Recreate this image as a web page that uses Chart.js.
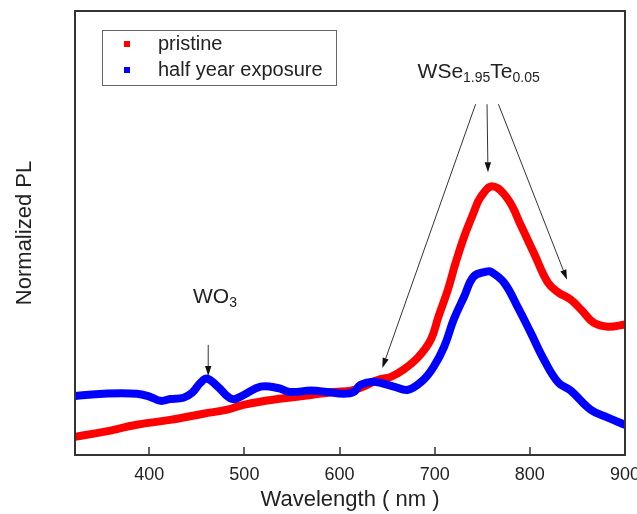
<!DOCTYPE html>
<html>
<head>
<meta charset="utf-8">
<script src="https://cdn.jsdelivr.net/npm/chart.js@4.4.1/dist/chart.umd.min.js"></script>
<style>
  html, body { margin: 0; background: #fff; }
  #wrap { width: 637px; height: 514px; }
</style>
</head>
<body>
<div id="wrap"><canvas id="pl"></canvas></div>
<script>
// PL spectra (wavelength in nm, normalized PL in arb. units 0-100)
const redNm = [322, 352, 387, 422, 457, 482, 499, 535, 570, 594, 612, 625, 640, 654, 667, 683, 696, 704, 714, 722,
  731, 741, 748, 761, 777, 791, 804, 819, 830, 843, 854, 867, 882, 900];
const redPL = [4.1, 5.2, 6.8, 7.9, 9.3, 10.2, 11.3, 12.6, 13.5, 14.2, 14.5, 15.4, 16.9, 17.6, 19.2, 22.1, 26.0, 31.2, 37.3, 43.3,
  49.2, 54.6, 58.0, 60.5, 57.6, 51.5, 45.6, 38.8, 36.6, 35.0, 32.7, 29.8, 28.9, 29.4];
const blueNm = [322, 352, 387, 401, 412, 422, 436, 445, 454, 461, 472, 487, 499, 517, 535, 548, 570, 587, 604, 615,
  622, 636, 657, 672, 688, 699, 710, 720, 731, 741, 754, 759, 773, 787, 801, 815, 830, 843, 864, 882, 900];
const bluePL = [13.3, 13.8, 13.8, 13.1, 12.2, 12.6, 12.9, 14.0, 16.3, 17.2, 15.4, 12.6, 13.5, 15.4, 15.1, 14.2, 14.5, 14.2, 13.8, 14.2,
  15.8, 16.5, 15.4, 14.7, 16.9, 19.9, 24.4, 30.5, 35.7, 40.2, 41.3, 41.3, 38.8, 33.4, 27.5, 21.4, 16.3, 14.5, 10.2, 8.4, 6.8];
const seriesNames = ["pristine", "half year exposure"];
const xTicks = [400, 500, 600, 700, 800, 900];

// annotation arrows, in data units: [nm, PL] from -> to
const arrowFrom = [[462, 24.8], [743, 79.0], [755, 79.0], [767, 79.0]];
const arrowTo = [[462, 17.8], [645, 19.6], [756, 63.7], [839, 39.5]];
const wo3At = [446, 34.3];
const wseAt = [682, 85.0];

const INK = "#222";
const FONT = "'Liberation Sans', Arial, sans-serif";
const pts = (xs, ys) => xs.map((v, i) => ({ x: v, y: ys[i] }));

function richText(ctx, x, y, parts) {
  parts.forEach(p => {
    ctx.font = (p.sub ? 14 : 21) + "px " + FONT;
    ctx.fillText(p.t, x, y + (p.sub ? 4.5 : 0));
    x += ctx.measureText(p.t).width;
  });
}

function arrow(ctx, x0, y0, x1, y1) {
  const ang = Math.atan2(y1 - y0, x1 - x0), L = 10, W = 3.2;
  const bx = x1 - L * Math.cos(ang), by = y1 - L * Math.sin(ang);
  ctx.beginPath(); ctx.moveTo(x0, y0); ctx.lineTo(bx, by); ctx.stroke();
  ctx.beginPath();
  ctx.moveTo(x1, y1);
  ctx.lineTo(bx + W * Math.sin(ang), by - W * Math.cos(ang));
  ctx.lineTo(bx - W * Math.sin(ang), by + W * Math.cos(ang));
  ctx.closePath(); ctx.fill();
}

const decor = {
  id: "decor",
  afterDatasetsDraw(chart) {
    const { ctx, chartArea: a, scales: { x, y } } = chart;
    ctx.save();
    // frame + inward ticks
    ctx.strokeStyle = "#333"; ctx.lineWidth = 2;
    ctx.strokeRect(a.left, a.top, a.right - a.left, a.bottom - a.top);
    ctx.lineWidth = 1.5;
    x.ticks.forEach(t => {
      const px = Math.round(x.getPixelForValue(t.value));
      ctx.beginPath(); ctx.moveTo(px, a.bottom); ctx.lineTo(px, a.bottom - 8); ctx.stroke();
    });

    // legend
    ctx.strokeStyle = "#666"; ctx.lineWidth = 1;
    ctx.strokeRect(a.left + 27.5, a.top + 19.5, 234, 55);
    ctx.font = "20px " + FONT; ctx.textBaseline = "middle"; ctx.fillStyle = INK;
    chart.data.datasets.forEach((ds, i) => {
      const ly = a.top + 33 + i * 26;
      ctx.fillStyle = ds.borderColor;
      ctx.fillRect(a.left + 49, ly - 3, 6, 6);
      ctx.fillStyle = INK;
      ctx.fillText(ds.label, a.left + 83, ly);
    });

    // annotations
    ctx.textBaseline = "alphabetic"; ctx.fillStyle = INK;
    richText(ctx, x.getPixelForValue(wo3At[0]), y.getPixelForValue(wo3At[1]),
      [{ t: "WO" }, { t: "3", sub: true }]);
    richText(ctx, x.getPixelForValue(wseAt[0]), y.getPixelForValue(wseAt[1]),
      [{ t: "WSe" }, { t: "1.95", sub: true }, { t: "Te" }, { t: "0.05", sub: true }]);
    ctx.strokeStyle = "#333"; ctx.fillStyle = "#111"; ctx.lineWidth = 1;
    arrowFrom.forEach((f, i) => {
      const t = arrowTo[i];
      arrow(ctx, x.getPixelForValue(f[0]), y.getPixelForValue(f[1]),
        x.getPixelForValue(t[0]), y.getPixelForValue(t[1]));
    });
    ctx.restore();
  }
};

new Chart(document.getElementById("pl"), {
  type: "line",
  data: {
    datasets: [
      { label: seriesNames[0], data: pts(redNm, redPL), borderColor: "#ff0000", order: 1 },
      { label: seriesNames[1], data: pts(blueNm, bluePL), borderColor: "#0000ff", order: 0 },
    ],
  },
  options: {
    responsive: true, maintainAspectRatio: false, animation: false,
    layout: { padding: { top: 11, right: 12, left: 0, bottom: 0 } },
    elements: {
      point: { radius: 0 },
      line: { borderWidth: 8, tension: 0.4, borderCapStyle: "round", borderJoinStyle: "round" },
    },
    plugins: { legend: { display: false }, tooltip: { enabled: false } },
    scales: {
      x: {
        type: "linear", min: 322, max: 900,
        afterBuildTicks: s => { s.ticks = xTicks.map(v => ({ value: v })); },
        afterFit: s => { s.height = 59; s.paddingLeft = 0; s.paddingRight = 0; },
        grid: { display: false, drawTicks: false },
        border: { display: false },
        ticks: { padding: 9, color: INK, font: { family: FONT, size: 18 } },
        title: { display: true, text: "Wavelength ( nm )", color: INK,
          font: { family: FONT, size: 22 }, padding: { top: 0, bottom: 1 } },
      },
      y: {
        min: 0, max: 100,
        afterFit: s => { s.width = 75; },
        grid: { display: false, drawTicks: false },
        border: { display: false },
        ticks: { display: false },
        title: { display: true, text: "Normalized PL", color: INK,
          font: { family: FONT, size: 22 }, padding: { top: 12, bottom: 0 } },
      },
    },
  },
  plugins: [decor],
});
</script>
</body>
</html>
